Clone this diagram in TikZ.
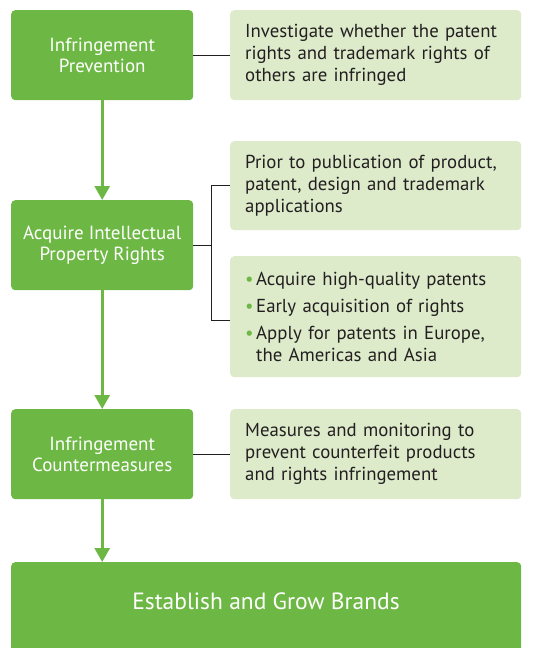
\documentclass[tikz,border=0pt]{standalone}
\usepackage{fontspec}
\setmainfont{PT Sans}
\usetikzlibrary{arrows.meta,positioning}
\definecolor{leafgreen}{HTML}{6DB844}
\definecolor{palegreen}{HTML}{DDEBCB}
\definecolor{inkgray}{HTML}{231F20}
\newcommand{\gdot}{\makebox[11pt][l]{\textcolor{leafgreen}{\textbullet}}}
\begin{document}
\begin{tikzpicture}[x=1pt,y=-1pt,
  stage/.style={fill=leafgreen,rounded corners=4pt,minimum width=182pt,minimum height=90pt,
    text=white,align=center,anchor=north west,font=\fontsize{19}{21.5}\selectfont},
  note/.style={fill=palegreen,rounded corners=4pt,minimum width=291pt,minimum height=90pt,
    text width=261pt,inner xsep=15pt,align=left,anchor=north west,text=inkgray,
    font=\fontsize{18.8}{22}\selectfont},
  flow/.style={leafgreen,line width=3pt,-{Triangle[width=15pt,length=14pt]}},
  tie/.style={inkgray,line width=0.8pt}]
  \useasboundingbox (0,0) rectangle (542,648);

  % left column
  \node[stage] (prevent) at (11,10) {Infringement\\Prevention};
  \node[stage] (acquire) at (11,200) {Acquire Intellectual\\Property Rights};
  \node[stage] (counter) at (11,409) {Infringement\\Countermeasures};
  \node[stage,minimum width=510pt,minimum height=100pt] (brand) at (11,562) {};
  \node[text=white,font=\fontsize{23.5}{26}\selectfont] (brandtxt) at (266,601) {Establish and Grow Brands};

  % right column
  \node[note] (check) at (230,10) {Investigate whether the patent\\rights and trademark rights of\\others are infringed};
  \node[note,minimum height=89pt] (publish) at (230,141) {Prior to publication of product,\\patent, design and trademark\\applications};
  \node[note,minimum height=121pt] (quality) at (230,256) {\gdot Acquire high-quality patents\\[5pt]
    \gdot Early acquisition of rights\\[5pt]
    \gdot Apply for patents in Europe,\\ \hspace*{11pt}the Americas and Asia};
  \node[note] (monitor) at (230,409) {Measures and monitoring to\\prevent counterfeit products\\and rights infringement};

  \draw[flow] (prevent.south) -- (acquire.north);
  \draw[flow] (acquire.south) -- (counter.north);
  \draw[flow] (counter.south) -- (counter.south |- brand.north);

  \draw[tie] (prevent.east) -- (check.west);
  \draw[tie] (counter.east) -- (monitor.west);
  \draw[tie] (acquire.east) -- ++(18,0) coordinate (fork);
  \draw[tie] (publish.west) -| (fork) |- ([yshift=-4pt]quality.west);
\end{tikzpicture}
\end{document}
